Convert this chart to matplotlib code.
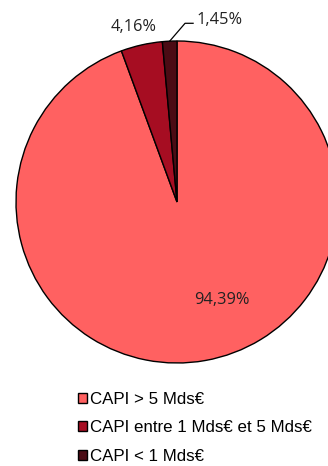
import numpy as np
import matplotlib.pyplot as plt
from matplotlib.patches import Patch

labels = ['CAPI > 5 Mds€', 'CAPI entre 1 Mds€ et 5 Mds€', 'CAPI < 1 Mds€']
values = [94.39, 4.16, 1.45]
pct_text = ['94,39%', '4,16%', '1,45%']
colors = ['#FF6161', '#A60D22', '#4B0B14']

fig = plt.figure(figsize=(3.28, 4.66), dpi=100)
# pie axes, deliberately running past the right edge like the original
ax = fig.add_axes([16 / 328, 103 / 466, 322 / 328, 322 / 466])
wedges, _ = ax.pie(values, colors=colors, startangle=90, counterclock=False,
                   radius=1.0, wedgeprops=dict(edgecolor='black', linewidth=1.0))
ax.set_xlim(-1, 1)
ax.set_ylim(-1, 1)
ax.set_aspect('equal')
ax.axis('off')

lab_font = dict(family=['Open Sans', 'DejaVu Sans'], fontsize=11.8, color='#222222')
ax.text(0.28, -0.61, pct_text[0], ha='center', va='center', **lab_font)
ax.text(-0.27, 1.09, pct_text[1], ha='center', va='center', **lab_font)

# leader line for the smallest slice
w = wedges[2]
mid = np.deg2rad((w.theta1 + w.theta2) / 2)
x0, y0 = np.cos(mid), np.sin(mid)
ax.plot([x0, 0.05, 0.10], [y0, 1.11, 1.11], color='black', lw=0.9, clip_on=False)
ax.text(0.12, 1.13, pct_text[2], ha='left', va='center', **lab_font)

handles = [Patch(facecolor=c, edgecolor='black', linewidth=1.0) for c in colors]
leg = fig.legend(handles, labels, loc='upper left', bbox_to_anchor=(71 / 328, 1 - 385 / 466),
                 frameon=False, prop={'family': 'Liberation Sans', 'size': 12.2},
                 handlelength=0.55, handleheight=0.55, handletextpad=0.15,
                 labelspacing=0.8, borderaxespad=0)

fig.savefig('out.png', dpi=100)
